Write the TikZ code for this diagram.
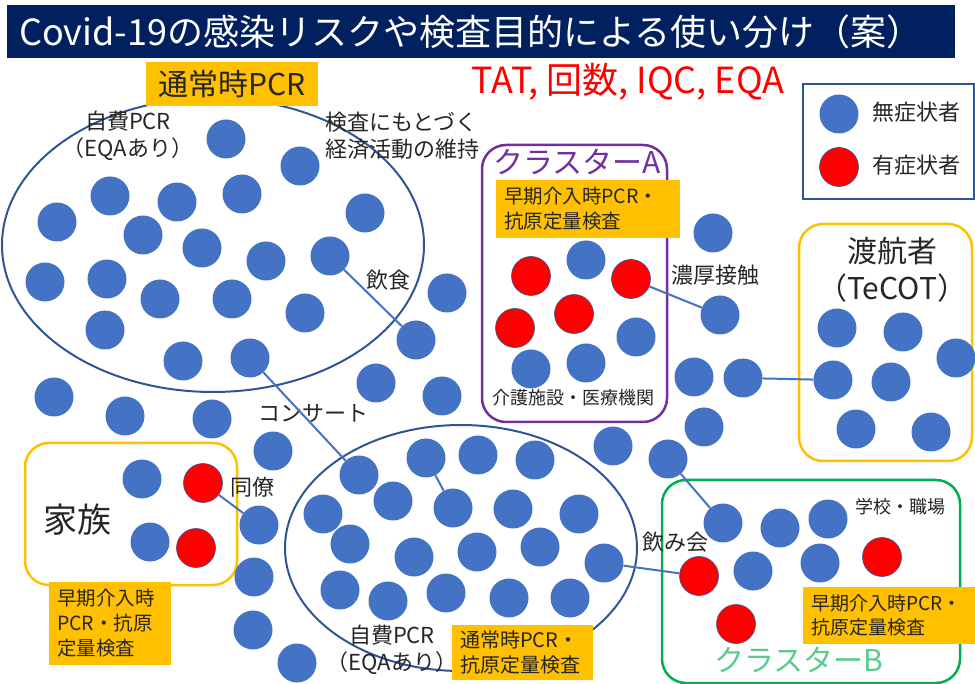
\documentclass[tikz,border=0pt]{standalone}
\usepackage{fontspec}
\setmainfont{Noto Sans CJK JP}
\usetikzlibrary{shapes.geometric}
\definecolor{navy}{HTML}{002060}
\definecolor{dotblue}{HTML}{4472C4}
\definecolor{ringblue}{HTML}{2F5597}
\definecolor{amber}{HTML}{FFC000}
\definecolor{grape}{HTML}{7030A0}
\definecolor{leaf}{HTML}{00B050}
\definecolor{ink}{HTML}{262626}

\begin{document}
\begin{tikzpicture}[x=1pt,y=-1pt]
\tikzset{asym/.style = {shape=circle,fill=dotblue,minimum size=39pt,inner sep=0}}
\tikzset{sym/.style = {asym,fill=red,draw=ringblue,line width=0.6pt}}
\tikzset{link/.style = {draw=dotblue,line width=2pt}}
\tikzset{note/.style = {text=ink,font=\fontsize{22}{27}\selectfont,inner sep=0}}
\tikzset{small/.style = {text=ink,font=\fontsize{18}{22}\selectfont,inner sep=0}}
\tikzset{tag/.style = {fill=amber,text=ink,align=left,inner ysep=0,inner xsep=8pt,
  font=\fontsize{19.5}{25}\selectfont}}
\tikzset{frame/.style = {rounded corners=24pt,line width=2.5pt,inner sep=0}}
\tikzset{ring/.style = {shape=ellipse,draw=ringblue,line width=2pt,inner sep=0}}
\useasboundingbox (0,0) rectangle (975,684);
% title
\node[fill=navy,minimum width=948pt,minimum height=53pt,inner sep=0] (titlebar) at (481,31.5) {};
\node[text=white,anchor=west,inner sep=0,font=\fontsize{36}{42}\selectfont] (title) at (19,31.5)
  {Covid-19の感染リスクや検査目的による使い分け（案）};
\node[text=red,inner sep=0,font=\fontsize{36}{42}\selectfont] (metrics) at (628,82) {TAT, 回数, IQC, EQA};
% legend
\node[draw=ringblue,line width=2pt,minimum width=171pt,minimum height=115pt,inner sep=0] (legend) at (888.5,142) {};
\node[asym] (lg1) at (839,114) {};
\node[sym] (lg2) at (839,167) {};
\node[note,anchor=west] (lgt1) at (872,112) {無症状者};
\node[note,anchor=west] (lgt2) at (872,165) {有症状者};
% groups
\node[ring,minimum width=422pt,minimum height=294pt] (routine) at (213,245) {};
\node[ring,minimum width=352pt,minimum height=246pt] (selfpay) at (461,548) {};
\node[frame,draw=amber,minimum width=212pt,minimum height=142pt] (family) at (131,514) {};
\node[frame,draw=grape,minimum width=185pt,minimum height=277pt] (clusterA) at (574.5,283.5) {};
\node[frame,draw=amber,minimum width=173pt,minimum height=237pt] (travel) at (885.5,342.5) {};
\node[frame,draw=leaf,minimum width=298pt,minimum height=203pt] (clusterB) at (811,581.5) {};
% labels
\node[tag,align=center,inner xsep=0,minimum width=172pt,minimum height=44pt,font=\fontsize{30}{36}\selectfont] (routinetag) at (232,84) {通常時PCR};
\node[tag,text width=168pt,minimum height=58pt] (tagA) at (588,209) {早期介入時PCR・\\抗原定量検査};
\node[tag,text width=106pt,minimum height=83pt] (tagfam) at (110,623.5) {早期介入時\\PCR・抗原\\定量検査};
\node[tag,text width=125pt,minimum height=55pt,font=\fontsize{20}{25}\selectfont] (tagself) at (522.5,652.5) {通常時PCR・\\抗原定量検査};
\node[tag,text width=156pt,minimum height=57pt,font=\fontsize{19}{24}\selectfont] (tagB) at (889,615.5) {早期介入時PCR・\\抗原定量検査};
\node[note,align=center] (selfpay1) at (128,136) {自費PCR\\（EQAあり）};
\node[note,align=left,anchor=west] (economy) at (325,136) {検査にもとづく\\経済活動の維持};
\node[note,align=center] (selfpay2) at (392,650) {自費PCR\\（EQAあり）};
\node[text=ink,inner sep=0,font=\fontsize{34}{40}\selectfont] (famtext) at (77,520) {家族};
\node[text=ink,inner sep=0,align=center,font=\fontsize{30}{37}\selectfont] (traveltext) at (892,270) {渡航者\\（TeCOT）};
\node[text=grape,inner sep=0,font=\fontsize{30}{36}\selectfont] (clusterAtext) at (577,162) {クラスターA};
\node[text=leaf!65!white,inner sep=0,font=\fontsize{30}{36}\selectfont] (clusterBtext) at (799,660) {クラスターB};
\node[small] (facility) at (573,398) {介護施設・医療機関};
\node[small] (school) at (900,507) {学校・職場};
\node[note] (eatlabel) at (388,280) {飲食};
\node[note] (concertlabel) at (313,413) {コンサート};
\node[note] (colleaguelabel) at (252,487) {同僚};
\node[note] (contactlabel) at (715,275) {濃厚接触};
\node[note] (drinklabel) at (675,542) {飲み会};
% people
\foreach \x/\y [count=\i] in {226/139,300/166,110/196,177/202,242/194,57/222,143/235,365/213,
  202/248,266/261,45/282,107/279,160/299,232/299,305/313,447/293,105/330,183/361,376/383,
  442/396,54/397,125/416,212/419,273/451,142/479,150/542,254/577,253/630,297/663}
  \node[asym] (u\i) at (\x,\y) {};
\foreach \x/\y [count=\i] in {478/455,535/460,393/501,513/509,579/514,323/514,350/544,414/557,
  477/552,540/547,340/590,388/601,446/593,509/598,570/598}
  \node[asym] (s\i) at (\x,\y) {};
\foreach \x/\y [count=\i] in {586/260,636/337,531/369,586/363,713/233,694/377,704/427,613/446,
  837/328,903/332,956/358,891/382,856/429,931/432,780/528,828/519,753/571,820/563}
  \node[asym] (r\i) at (\x,\y) {};
\foreach \x/\y [count=\i] in {196/548,531/276,574/314,515/328,882/557,736/624}
  \node[sym] (x\i) at (\x,\y) {};
\node[asym] (eat1) at (330,256) {};
\node[asym] (eat2) at (416,340) {};
\node[asym] (concert1) at (250,358) {};
\node[asym] (concert2) at (359,475) {};
\node[sym] (colleague1) at (203,483) {};
\node[asym] (colleague2) at (259,525) {};
\node[asym] (inner1) at (426,458) {};
\node[asym] (inner2) at (453,508) {};
\node[asym] (drink1) at (604,563) {};
\node[sym] (drink2) at (699,576) {};
\node[sym] (contact1) at (631,279) {};
\node[asym] (contact2) at (720,315) {};
\node[asym] (trip1) at (743,378) {};
\node[asym] (trip2) at (833,380) {};
\node[asym] (spread1) at (668,459) {};
\node[asym] (spread2) at (723,523) {};
% edges
\draw[link] (eat1) to (eat2);
\draw[link] (concert1) to (concert2);
\draw[link] (colleague1) to (colleague2);
\draw[link] (inner1) to (inner2);
\draw[link] (drink1) to (drink2);
\draw[link] (contact1) to (contact2);
\draw[link] (trip1) to (trip2);
\draw[link] (spread1) to (spread2);
\end{tikzpicture}
\end{document}
